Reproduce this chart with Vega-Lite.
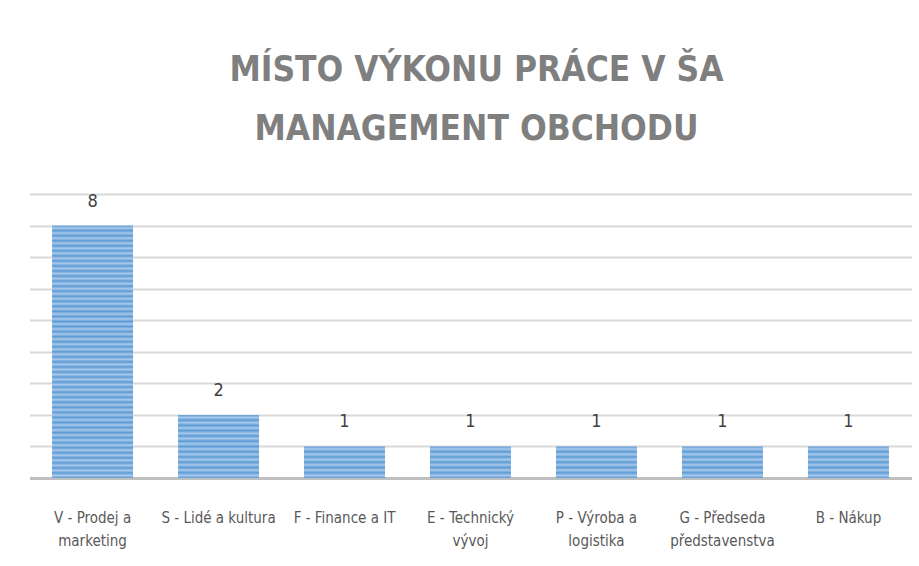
{
  "$schema": "https://vega.github.io/schema/vega-lite/v6.json",
  "autosize": {"type": "none"},
  "padding": {"left": 29.5, "top": 194, "right": 7.5, "bottom": 88},
  "width": 882,
  "height": 284,
  "background": "#ffffff",
  "title": {
    "text": ["MÍSTO VÝKONU PRÁCE V ŠA", "MANAGEMENT OBCHODU"],
    "font": "Liberation Sans Narrow, DejaVu Sans Condensed, Lato, sans-serif",
    "fontSize": 35,
    "fontWeight": "bold",
    "color": "#7f7f7f",
    "lineHeight": 59,
    "anchor": "middle",
    "offset": 46,
    "dx": 6
  },
  "data": {
    "values": [
      {"oddeleni": "V - Prodej a marketing", "pocet": 8},
      {"oddeleni": "S - Lidé a kultura", "pocet": 2},
      {"oddeleni": "F - Finance a IT", "pocet": 1},
      {"oddeleni": "E - Technický vývoj", "pocet": 1},
      {"oddeleni": "P - Výroba a logistika", "pocet": 1},
      {"oddeleni": "G - Předseda představenstva", "pocet": 1},
      {"oddeleni": "B - Nákup", "pocet": 1}
    ]
  },
  "encoding": {
    "x": {
      "field": "oddeleni",
      "type": "nominal",
      "sort": null,
      "scale": {"paddingInner": 0.357, "paddingOuter": 0.179},
      "axis": {
        "title": null,
        "labelAngle": 0,
        "labelFont": "Liberation Sans Narrow, DejaVu Sans Condensed, Lato, sans-serif",
        "labelFontSize": 15,
        "labelColor": "#595959",
        "labelLineHeight": 23,
        "labelPadding": 32,
        "labelLimit": 200,
        "labelOverlap": false,
        "ticks": false,
        "domainColor": "#bfbfbf",
        "domainWidth": 3,
        "labelExpr": "length(datum.label) > 18 ? [substring(datum.label, 0, lastindexof(datum.label, ' ')), substring(datum.label, lastindexof(datum.label, ' ') + 1)] : datum.label"
      }
    },
    "y": {
      "field": "pocet",
      "type": "quantitative",
      "scale": {"domain": [0, 9], "nice": false},
      "axis": {
        "title": null,
        "labels": false,
        "ticks": false,
        "domain": false,
        "values": [0, 1, 2, 3, 4, 5, 6, 7, 8, 9],
        "gridColor": "#d9d9d9",
        "gridWidth": 2
      }
    }
  },
  "layer": [
    {
      "mark": {"type": "bar"},
      "encoding": {
        "fill": {
          "condition": [
            {
              "test": "datum.pocet == 8",
              "value": {
                "gradient": "linear", "x1": 0, "y1": 0, "x2": 0, "y2": 1,
                "stops": [
                  {"offset": 0, "color": "#5b9bd5"}, {"offset": 0.01, "color": "#a9c9ea"},
                  {"offset": 0.02, "color": "#5b9bd5"}, {"offset": 0.03, "color": "#a9c9ea"},
                  {"offset": 0.04, "color": "#5b9bd5"}, {"offset": 0.05, "color": "#a9c9ea"},
                  {"offset": 0.06, "color": "#5b9bd5"}, {"offset": 0.07, "color": "#a9c9ea"},
                  {"offset": 0.08, "color": "#5b9bd5"}, {"offset": 0.09, "color": "#a9c9ea"},
                  {"offset": 0.10, "color": "#5b9bd5"}, {"offset": 0.11, "color": "#a9c9ea"},
                  {"offset": 0.12, "color": "#5b9bd5"}, {"offset": 0.13, "color": "#a9c9ea"},
                  {"offset": 0.14, "color": "#5b9bd5"}, {"offset": 0.15, "color": "#a9c9ea"},
                  {"offset": 0.16, "color": "#5b9bd5"}, {"offset": 0.17, "color": "#a9c9ea"},
                  {"offset": 0.18, "color": "#5b9bd5"}, {"offset": 0.19, "color": "#a9c9ea"},
                  {"offset": 0.20, "color": "#5b9bd5"}, {"offset": 0.21, "color": "#a9c9ea"},
                  {"offset": 0.22, "color": "#5b9bd5"}, {"offset": 0.23, "color": "#a9c9ea"},
                  {"offset": 0.24, "color": "#5b9bd5"}, {"offset": 0.25, "color": "#a9c9ea"},
                  {"offset": 0.26, "color": "#5b9bd5"}, {"offset": 0.27, "color": "#a9c9ea"},
                  {"offset": 0.28, "color": "#5b9bd5"}, {"offset": 0.29, "color": "#a9c9ea"},
                  {"offset": 0.30, "color": "#5b9bd5"}, {"offset": 0.31, "color": "#a9c9ea"},
                  {"offset": 0.32, "color": "#5b9bd5"}, {"offset": 0.33, "color": "#a9c9ea"},
                  {"offset": 0.34, "color": "#5b9bd5"}, {"offset": 0.35, "color": "#a9c9ea"},
                  {"offset": 0.36, "color": "#5b9bd5"}, {"offset": 0.37, "color": "#a9c9ea"},
                  {"offset": 0.38, "color": "#5b9bd5"}, {"offset": 0.39, "color": "#a9c9ea"},
                  {"offset": 0.40, "color": "#5b9bd5"}, {"offset": 0.41, "color": "#a9c9ea"},
                  {"offset": 0.42, "color": "#5b9bd5"}, {"offset": 0.43, "color": "#a9c9ea"},
                  {"offset": 0.44, "color": "#5b9bd5"}, {"offset": 0.45, "color": "#a9c9ea"},
                  {"offset": 0.46, "color": "#5b9bd5"}, {"offset": 0.47, "color": "#a9c9ea"},
                  {"offset": 0.48, "color": "#5b9bd5"}, {"offset": 0.49, "color": "#a9c9ea"},
                  {"offset": 0.50, "color": "#5b9bd5"}, {"offset": 0.51, "color": "#a9c9ea"},
                  {"offset": 0.52, "color": "#5b9bd5"}, {"offset": 0.53, "color": "#a9c9ea"},
                  {"offset": 0.54, "color": "#5b9bd5"}, {"offset": 0.55, "color": "#a9c9ea"},
                  {"offset": 0.56, "color": "#5b9bd5"}, {"offset": 0.57, "color": "#a9c9ea"},
                  {"offset": 0.58, "color": "#5b9bd5"}, {"offset": 0.59, "color": "#a9c9ea"},
                  {"offset": 0.60, "color": "#5b9bd5"}, {"offset": 0.61, "color": "#a9c9ea"},
                  {"offset": 0.62, "color": "#5b9bd5"}, {"offset": 0.63, "color": "#a9c9ea"},
                  {"offset": 0.64, "color": "#5b9bd5"}, {"offset": 0.65, "color": "#a9c9ea"},
                  {"offset": 0.66, "color": "#5b9bd5"}, {"offset": 0.67, "color": "#a9c9ea"},
                  {"offset": 0.68, "color": "#5b9bd5"}, {"offset": 0.69, "color": "#a9c9ea"},
                  {"offset": 0.70, "color": "#5b9bd5"}, {"offset": 0.71, "color": "#a9c9ea"},
                  {"offset": 0.72, "color": "#5b9bd5"}, {"offset": 0.73, "color": "#a9c9ea"},
                  {"offset": 0.74, "color": "#5b9bd5"}, {"offset": 0.75, "color": "#a9c9ea"},
                  {"offset": 0.76, "color": "#5b9bd5"}, {"offset": 0.77, "color": "#a9c9ea"},
                  {"offset": 0.78, "color": "#5b9bd5"}, {"offset": 0.79, "color": "#a9c9ea"},
                  {"offset": 0.80, "color": "#5b9bd5"}, {"offset": 0.81, "color": "#a9c9ea"},
                  {"offset": 0.82, "color": "#5b9bd5"}, {"offset": 0.83, "color": "#a9c9ea"},
                  {"offset": 0.84, "color": "#5b9bd5"}, {"offset": 0.85, "color": "#a9c9ea"},
                  {"offset": 0.86, "color": "#5b9bd5"}, {"offset": 0.87, "color": "#a9c9ea"},
                  {"offset": 0.88, "color": "#5b9bd5"}, {"offset": 0.89, "color": "#a9c9ea"},
                  {"offset": 0.90, "color": "#5b9bd5"}, {"offset": 0.91, "color": "#a9c9ea"},
                  {"offset": 0.92, "color": "#5b9bd5"}, {"offset": 0.93, "color": "#a9c9ea"},
                  {"offset": 0.94, "color": "#5b9bd5"}, {"offset": 0.95, "color": "#a9c9ea"},
                  {"offset": 0.96, "color": "#5b9bd5"}, {"offset": 0.97, "color": "#a9c9ea"},
                  {"offset": 0.98, "color": "#5b9bd5"}, {"offset": 0.99, "color": "#a9c9ea"},
                  {"offset": 1, "color": "#5b9bd5"}
                ]
              }
            },
            {
              "test": "datum.pocet == 2",
              "value": {
                "gradient": "linear", "x1": 0, "y1": 0, "x2": 0, "y2": 1,
                "stops": [
                  {"offset": 0, "color": "#5b9bd5"}, {"offset": 0.0417, "color": "#a9c9ea"},
                  {"offset": 0.0833, "color": "#5b9bd5"}, {"offset": 0.125, "color": "#a9c9ea"},
                  {"offset": 0.1667, "color": "#5b9bd5"}, {"offset": 0.2083, "color": "#a9c9ea"},
                  {"offset": 0.25, "color": "#5b9bd5"}, {"offset": 0.2917, "color": "#a9c9ea"},
                  {"offset": 0.3333, "color": "#5b9bd5"}, {"offset": 0.375, "color": "#a9c9ea"},
                  {"offset": 0.4167, "color": "#5b9bd5"}, {"offset": 0.4583, "color": "#a9c9ea"},
                  {"offset": 0.5, "color": "#5b9bd5"}, {"offset": 0.5417, "color": "#a9c9ea"},
                  {"offset": 0.5833, "color": "#5b9bd5"}, {"offset": 0.625, "color": "#a9c9ea"},
                  {"offset": 0.6667, "color": "#5b9bd5"}, {"offset": 0.7083, "color": "#a9c9ea"},
                  {"offset": 0.75, "color": "#5b9bd5"}, {"offset": 0.7917, "color": "#a9c9ea"},
                  {"offset": 0.8333, "color": "#5b9bd5"}, {"offset": 0.875, "color": "#a9c9ea"},
                  {"offset": 0.9167, "color": "#5b9bd5"}, {"offset": 0.9583, "color": "#a9c9ea"},
                  {"offset": 1, "color": "#5b9bd5"}
                ]
              }
            }
          ],
          "value": {
            "gradient": "linear", "x1": 0, "y1": 0, "x2": 0, "y2": 1,
            "stops": [
              {"offset": 0, "color": "#5b9bd5"}, {"offset": 0.0833, "color": "#a9c9ea"},
              {"offset": 0.1667, "color": "#5b9bd5"}, {"offset": 0.25, "color": "#a9c9ea"},
              {"offset": 0.3333, "color": "#5b9bd5"}, {"offset": 0.4167, "color": "#a9c9ea"},
              {"offset": 0.5, "color": "#5b9bd5"}, {"offset": 0.5833, "color": "#a9c9ea"},
              {"offset": 0.6667, "color": "#5b9bd5"}, {"offset": 0.75, "color": "#a9c9ea"},
              {"offset": 0.8333, "color": "#5b9bd5"}, {"offset": 0.9167, "color": "#a9c9ea"},
              {"offset": 1, "color": "#5b9bd5"}
            ]
          }
        }
      }
    },
    {
      "mark": {
        "type": "text",
        "baseline": "alphabetic",
        "dy": -19,
        "font": "Liberation Sans Narrow, DejaVu Sans Condensed, Lato, sans-serif",
        "fontSize": 18,
        "color": "#404040"
      },
      "encoding": {
        "text": {"field": "pocet", "type": "quantitative"}
      }
    }
  ],
  "config": {
    "view": {"stroke": null}
  }
}
